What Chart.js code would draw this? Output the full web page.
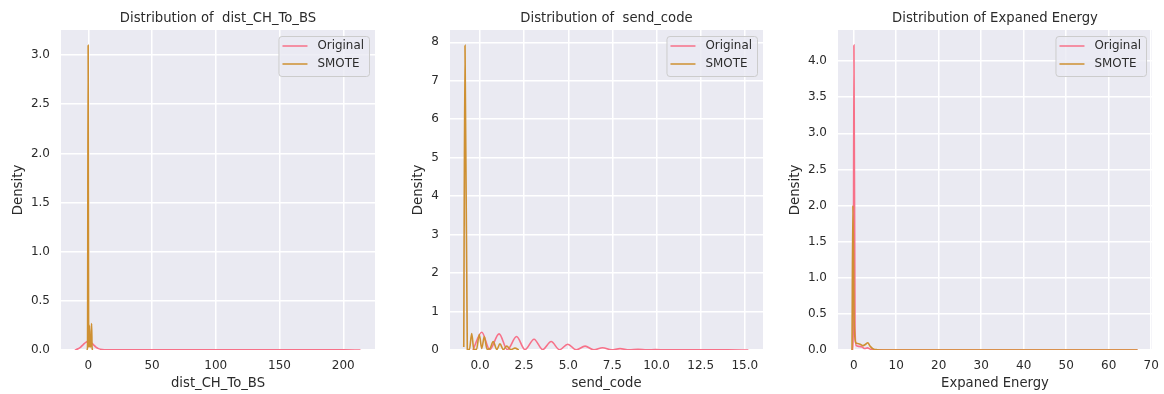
<!DOCTYPE html>
<html>
<head>
<meta charset="utf-8">
<script src="https://cdn.jsdelivr.net/npm/chart.js@4/dist/chart.umd.min.js"></script>
<style>
  html, body { margin: 0; padding: 0; background: #ffffff; }
  body { width: 1164px; height: 394px; position: relative; overflow: hidden; }
  canvas { position: absolute; top: 0; }
</style>
</head>
<body>
<canvas id="c1" width="387" height="394" style="left:0px"></canvas>
<canvas id="c2" width="375" height="394" style="left:400px"></canvas>
<canvas id="c3" width="387" height="394" style="left:777px"></canvas>
<script>
// ---------- Data ----------
const seriesNames = ["Original", "SMOTE"];
const seriesColors = ["#f77189", "#ce9032"];

const titles = ["Distribution of  dist_CH_To_BS", "Distribution of  send_code", "Distribution of Expaned Energy"];
const xLabels = ["dist_CH_To_BS", "send_code", "Expaned Energy"];

// Panel 1: dist_CH_To_BS
const orig1X = [-10.5, -8, -6, -4, -2, 0, 2, 4, 6, 8, 11, 15, 25, 50, 100, 150, 200, 213.5];
const orig1Y = [0.0, 0.012, 0.03, 0.055, 0.078, 0.088, 0.078, 0.055, 0.03, 0.014, 0.005, 0.002, 0.001, 0.001, 0.001, 0.001, 0.001, 0.0];
const smote1X = [-1.4, -0.6, -0.1, 0.3, 0.6, 0.9, 1.3, 1.8, 2.2, 2.6, 3.0, 3.5];
const smote1Y = [0.0, 0.02, 3.1, 0.05, 0.03, 0.25, 0.03, 0.04, 0.1, 0.27, 0.02, 0.0];
const x1Ticks = [0, 50, 100, 150, 200];
const y1Ticks = [0, 0.5, 1.0, 1.5, 2.0, 2.5, 3.0];

// Panel 2: send_code
const orig2X = [-0.4, 0.1, 0.55, 1.08, 1.55, 2.07, 2.55, 3.06, 3.55, 4.03, 4.5, 4.97, 5.45, 5.95, 6.45, 6.94, 7.45, 7.93, 8.45, 8.95, 9.45, 9.95, 10.5, 11, 12, 13, 14, 15.2];
const orig2Y = [0.0, 0.46, 0.01, 0.42, 0.01, 0.35, 0.01, 0.28, 0.01, 0.22, 0.008, 0.15, 0.005, 0.1, 0.004, 0.06, 0.003, 0.035, 0.002, 0.02, 0.002, 0.012, 0.002, 0.007, 0.004, 0.003, 0.002, 0.0];
const smote2X = [-0.92, -0.85, -0.72, -0.6, -0.47, -0.35, -0.2, -0.04, 0.1, 0.24, 0.4, 0.55, 0.75, 0.95, 1.13, 1.32, 1.51, 1.75, 1.98, 2.2];
const smote2Y = [0.08, 7.92, 0.02, 0.01, 0.43, 0.01, 0.02, 0.40, 0.04, 0.35, 0.02, 0.03, 0.22, 0.01, 0.16, 0.01, 0.1, 0.01, 0.05, 0.0];
const x2Ticks = [0, 2.5, 5, 7.5, 10, 12.5, 15];
const y2Ticks = [0, 1, 2, 3, 4, 5, 6, 7, 8];

// Panel 3: Expaned Energy
const orig3X = [-0.3, -0.1, 0.05, 0.3, 0.6, 1.2, 2.0, 2.6, 3.2, 4.0, 5.0, 8, 20, 40, 60, 66.8];
const orig3Y = [0.0, 0.3, 4.22, 0.3, 0.06, 0.05, 0.04, 0.02, 0.03, 0.01, 0.003, 0.001, 0.001, 0.001, 0.001, 0.0];
const smote3X = [-0.4, -0.2, 0.1, 0.5, 0.9, 1.5, 2.2, 2.8, 3.3, 3.9, 4.6, 5.5, 7, 15, 30, 50, 66.8];
const smote3Y = [0.0, 2.0, 0.4, 0.1, 0.09, 0.08, 0.06, 0.08, 0.1, 0.05, 0.015, 0.004, 0.001, 0.0005, 0.0003, 0.0002, 0.0];
const x3Ticks = [0, 10, 20, 30, 40, 50, 60, 70];
const y3Ticks = [0, 0.5, 1.0, 1.5, 2.0, 2.5, 3.0, 3.5, 4.0];

// ---------- Styling / layout ----------
const FONT = "'DejaVu Sans', sans-serif";
const TEXT = "#2b2b2b";
const BG = "#eaeaf2";

const bgPlugin = {
  id: 'plotBg',
  beforeDraw(chart) {
    const {ctx, chartArea: a} = chart;
    ctx.save();
    ctx.fillStyle = BG;
    ctx.fillRect(a.left, a.top, a.right - a.left, a.bottom - a.top);
    ctx.restore();
  }
};

const titleLegendPlugin = {
  id: 'titleLegend',
  afterDraw(chart, args, opts) {
    const {ctx, chartArea: a} = chart;
    ctx.save();
    ctx.font = "13.2px " + FONT;
    ctx.fillStyle = TEXT;
    ctx.textAlign = 'center';
    ctx.textBaseline = 'middle';
    ctx.fillText(opts.title, (a.left + a.right) / 2, 19);
    ctx.font = "11.9px " + FONT;
    let tw = 0;
    seriesNames.forEach(n => { tw = Math.max(tw, ctx.measureText(n).width); });
    const w = 39 + tw + 5, h = 40;
    const x0 = a.right - 6 - w, y0 = a.top + 6;
    ctx.beginPath();
    ctx.roundRect(x0 + 0.5, y0 + 0.5, w, h, 3);
    ctx.fillStyle = 'rgba(234,234,242,0.8)';
    ctx.fill();
    ctx.strokeStyle = '#cccccc';
    ctx.lineWidth = 1;
    ctx.stroke();
    seriesNames.forEach((n, i) => {
      const yy = y0 + 10 + i * 18;
      ctx.beginPath();
      ctx.moveTo(x0 + 4, yy);
      ctx.lineTo(x0 + 29, yy);
      ctx.strokeStyle = seriesColors[i];
      ctx.lineWidth = 1.5;
      ctx.stroke();
      ctx.fillStyle = TEXT;
      ctx.textAlign = 'left';
      ctx.textBaseline = 'middle';
      ctx.fillText(n, x0 + 39, yy);
    });
    ctx.restore();
  }
};

function pts(xs, ys) { return xs.map((x, i) => ({x: x, y: ys[i]})); }

function makePanel(id, p) {
  return new Chart(document.getElementById(id), {
    type: 'scatter',
    data: {
      datasets: [
        { label: seriesNames[1], data: pts(p.sx, p.sy), borderColor: seriesColors[1], order: 0 },
        { label: seriesNames[0], data: pts(p.ox, p.oy), borderColor: seriesColors[0], order: 1 }
      ]
    },
    options: {
      responsive: false,
      animation: false,
      devicePixelRatio: 1,
      layout: { padding: { top: 30, left: 0, right: 12, bottom: 0 } },
      elements: {
        point: { radius: 0, hoverRadius: 0 },
        line: { borderWidth: 1.6, cubicInterpolationMode: 'monotone', fill: false }
      },
      datasets: { scatter: { showLine: true } },
      plugins: {
        legend: { display: false },
        tooltip: { enabled: false },
        titleLegend: { title: p.title }
      },
      scales: {
        x: {
          type: 'linear', min: p.xmin, max: p.xmax,
          afterBuildTicks: s => { s.ticks = p.xt.map(v => ({value: v})); },
          afterFit: s => { s.height = 44; s.paddingLeft = 0; s.paddingRight = 0; s.paddingTop = 0; s.paddingBottom = 0; },
          grid: { color: '#ffffff', lineWidth: 1.5, drawTicks: false },
          border: { display: false },
          ticks: { color: TEXT, font: { family: FONT, size: 12 }, padding: 8.5, maxRotation: 0, autoSkip: false,
                   callback: v => p.xfmt(v) },
          title: { display: true, text: p.xlabel, color: TEXT, font: { family: FONT, size: 13.2 }, padding: { top: 0, bottom: 2.2 } }
        },
        y: {
          type: 'linear', min: 0, max: p.ymax,
          afterBuildTicks: s => { s.ticks = p.yt.map(v => ({value: v})); },
          afterFit: s => { s.width = p.yw; s.paddingLeft = 0; s.paddingRight = 0; s.paddingTop = 0; s.paddingBottom = 0; },
          grid: { color: '#ffffff', lineWidth: 1.5, drawTicks: false },
          border: { display: false },
          ticks: { color: TEXT, font: { family: FONT, size: 12 }, padding: 11, autoSkip: false,
                   callback: v => p.yfmt(v) },
          title: { display: true, text: 'Density', color: TEXT, font: { family: FONT, size: 13.3 }, padding: { top: 11, bottom: 0 } }
        }
      }
    },
    plugins: [bgPlugin, titleLegendPlugin]
  });
}

const f0 = v => String(Math.round(v));
const f1 = v => v.toFixed(1);

makePanel('c1', { title: titles[0], xlabel: xLabels[0], ox: orig1X, oy: orig1Y, sx: smote1X, sy: smote1Y,
  xmin: -21.4, xmax: 224.9, ymax: 3.255, xt: x1Ticks, yt: y1Ticks, xfmt: f0, yfmt: f1, yw: 61 });
makePanel('c2', { title: titles[1], xlabel: xLabels[1], ox: orig2X, oy: orig2Y, sx: smote2X, sy: smote2Y,
  xmin: -1.70, xmax: 16.03, ymax: 8.32, xt: x2Ticks, yt: y2Ticks, xfmt: f1, yfmt: f0, yw: 50 });
makePanel('c3', { title: titles[2], xlabel: xLabels[2], ox: orig3X, oy: orig3Y, sx: smote3X, sy: smote3Y,
  xmin: -3.7, xmax: 70.2, ymax: 4.43, xt: x3Ticks, yt: y3Ticks, xfmt: f0, yfmt: f1, yw: 61 });
</script>
</body>
</html>
